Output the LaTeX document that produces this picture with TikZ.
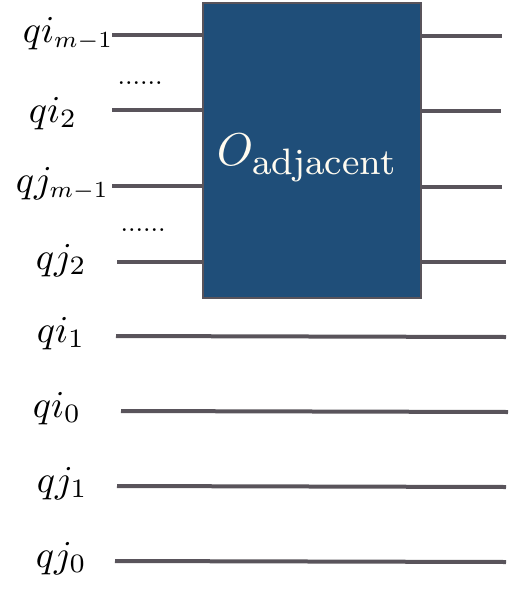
\documentclass[tikz,border=0pt]{standalone}
\usepackage{amsmath}
\usepackage{graphicx}
\definecolor{wirecol}{RGB}{89,84,91}
\definecolor{boxfill}{RGB}{31,78,121}
\definecolor{boxtext}{RGB}{255,251,240}
\newcommand{\msub}{\scalebox{0.87}{$\scriptstyle m-1$}}
\begin{document}
\begin{tikzpicture}[x=1pt,y=-1pt,
  wire/.style={draw=wirecol,line width=4pt},
  lbl/.style={inner sep=0pt,anchor=base west,scale=3.8},
  dotsrow/.style={inner sep=0pt,anchor=base west,scale=2.7},
  oracle/.style={draw=wirecol,line width=2pt,fill=boxfill,minimum width=218pt,minimum height=295pt,inner sep=0pt}]
\useasboundingbox (0,0) rectangle (512,590);
% box
\node[oracle] (O) at (312,150) {};
\node[inner sep=0pt,anchor=base west,text=boxtext,scale=4.6] (Olab) at (216,165) {$O_{\mbox{\fontsize{8}{9}\selectfont adjacent}}$};
% left wire ends
\coordinate (l1) at (112,35);  \coordinate (b1) at (202,35);
\coordinate (l2) at (112,110); \coordinate (b2) at (202,110);
\coordinate (l3) at (112,186); \coordinate (b3) at (202,186);
\coordinate (l4) at (117,262); \coordinate (b4) at (202,262);
% right wire ends
\coordinate (c1) at (421,36);  \coordinate (r1) at (502,36);
\coordinate (c2) at (421,111); \coordinate (r2) at (501,111);
\coordinate (c3) at (421,187); \coordinate (r3) at (502,187);
\coordinate (c4) at (421,262); \coordinate (r4) at (506,262);
\draw[wire] (l1) -- (b1); \draw[wire] (c1) -- (r1);
\draw[wire] (l2) -- (b2); \draw[wire] (c2) -- (r2);
\draw[wire] (l3) -- (b3); \draw[wire] (c3) -- (r3);
\draw[wire] (l4) -- (b4); \draw[wire] (c4) -- (r4);
% full wires
\coordinate (s5) at (116,336); \coordinate (e5) at (506,337);
\coordinate (s6) at (121,411); \coordinate (e6) at (508,412);
\coordinate (s7) at (117,486); \coordinate (e7) at (506,487);
\coordinate (s8) at (115,561); \coordinate (e8) at (506,562);
\draw[wire] (s5) -- (e5);
\draw[wire] (s6) -- (e6);
\draw[wire] (s7) -- (e7);
\draw[wire] (s8) -- (e8);
% labels
\node[lbl] (q1) at (22,42)  {$qi_{\msub}$};
\node[lbl] (q2) at (28,122) {$qi_2$};
\node[lbl] (q3) at (15,192) {$qj_{\msub}$};
\node[lbl] (q4) at (35,269) {$qj_2$};
\node[lbl] (q5) at (36,342) {$qi_1$};
\node[lbl] (q6) at (32,417) {$qi_0$};
\node[lbl] (q7) at (36,492) {$qj_1$};
\node[lbl] (q8) at (35,567) {$qj_0$};
% dots
\node[dotsrow] (d1) at (117,84) {......};
\node[dotsrow] (d2) at (120,231) {......};
\end{tikzpicture}
\end{document}
